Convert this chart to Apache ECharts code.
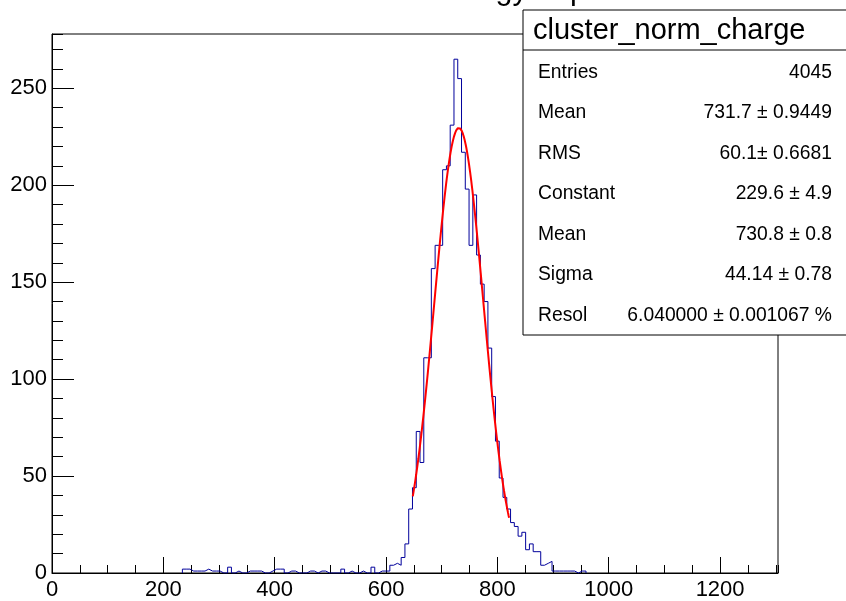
<!DOCTYPE html>
<html><head><meta charset="utf-8">
<script src="https://cdn.jsdelivr.net/npm/echarts@6/dist/echarts.min.js"></script>
<style>html,body{margin:0;padding:0;background:#fff}#c{width:846px;height:601px}</style>
</head><body><div id="c"></div>
<script>
// ---- data ----
const xRange = [0, 1304];
const yRange = [0, 278];
const histFirstEdge = 234.2;   // low edge of first listed bin
const histBinWidth = 6.775;
const counts = [
  // low tail
  2,2,1,1,1,1,2,1,1,1,
  0,0,3,0,1,0,0,1,1,1,
  1,0,0,1,2,2,2,0,1,1,
  0,0,0,1,1,0,1,1,0,0,
  0,0,2,0,1,0,0,1,0,0,
  // rising edge
  3,0,1,1,1,4,5,4,8,15,
  33,44,73,57,111,111,157,169,169,208,
  210,231,
  // peak and falling edge
  265,255,217,198,169,195,164,149,140,116,
  91,68,49,39,33,26,24,19,21,12,
  15,11,11,4,5,6,1,1,1,1,
  1,1,0,1,1
];
const fitParams = { constant: 229.6, mean: 730.8, sigma: 44.14 };
const fitRange = [648, 821];
const titleText = 'Energy deposit';
const statsTitle = 'cluster_norm_charge';
const statsLabels = ['Entries', 'Mean', 'RMS', 'Constant', 'Mean', 'Sigma', 'Resol'];
const statsValues = ['4045', '731.7 \u00b1 0.9449', '60.1\u00b1 0.6681', '229.6 \u00b1 4.9', '730.8 \u00b1 0.8', '44.14 \u00b1 0.78', '6.040000 \u00b1 0.001067 %'];

// ---- build series ----
const histData = [];
counts.forEach((c, i) => {
  const lo = histFirstEdge + i * histBinWidth, hi = lo + histBinWidth;
  if (i === 0) histData.push([lo, 0]);
  histData.push([lo, c], [hi, c]);
});
histData.push([histFirstEdge + counts.length * histBinWidth, 0]);

const fitData = [];
for (let x = fitRange[0]; x <= fitRange[1] + 1e-9; x += 1) {
  const d = (x - fitParams.mean) / fitParams.sigma;
  fitData.push([x, fitParams.constant * Math.exp(-0.5 * d * d)]);
}

const FONT = 'Liberation Sans, Arial, Helvetica, sans-serif';
const chart = echarts.init(document.getElementById('c'), null, { renderer: 'canvas' });

const gLeft = 52, gTop = 34, gW = 726, gH = 542;
const graphics = [
  { type: 'text', left: 431, top: -24.5, z: 100,
    style: { text: titleText, font: '30.5px ' + FONT, fill: '#000' } },
  { type: 'rect', shape: { x: 523, y: 10, width: 325, height: 325 }, z: 100,
    style: { fill: '#fff', stroke: '#000', lineWidth: 1 } },
  { type: 'line', shape: { x1: 523, y1: 50, x2: 846, y2: 50 }, z: 101,
    style: { stroke: '#000', lineWidth: 1 } },
  { type: 'text', x: 533, y: 31, z: 101,
    style: { text: statsTitle, font: '29px ' + FONT, fill: '#000', verticalAlign: 'middle' } }
];
statsLabels.forEach((lab, i) => {
  const cy = 72.5 + i * 40.5;
  graphics.push({ type: 'text', x: 538, y: cy, z: 101,
    style: { text: lab, font: '19.3px ' + FONT, fill: '#000', verticalAlign: 'middle', align: 'left' } });
  graphics.push({ type: 'text', x: 832, y: cy, z: 101,
    style: { text: statsValues[i], font: '19.3px ' + FONT, fill: '#000', verticalAlign: 'middle', align: 'right' } });
});

const lab = { color: '#000', fontSize: 22, fontFamily: FONT, formatter: v => String(v) };
chart.setOption({
  animation: false,
  backgroundColor: '#fff',
  grid: { left: gLeft, top: gTop, width: gW, height: gH, show: true, borderColor: '#000', borderWidth: 1, backgroundColor: 'transparent', containLabel: false },
  xAxis: [
    { type: 'value', min: xRange[0], max: xRange[1], interval: 200, position: 'bottom',
      axisLine: { show: true, onZero: false, lineStyle: { color: '#000', width: 1 } },
      axisTick: { show: true, inside: true, length: 16, lineStyle: { color: '#000' } },
      axisLabel: Object.assign({ margin: 6, showMaxLabel: false }, lab),
      splitLine: { show: false } },
    { type: 'value', min: xRange[0], max: xRange[1], interval: 50, position: 'bottom',
      axisLine: { show: false, onZero: false },
      axisTick: { show: true, inside: true, length: 8, lineStyle: { color: '#000' } },
      axisLabel: { show: false }, splitLine: { show: false } }
  ],
  yAxis: [
    { type: 'value', min: yRange[0], max: yRange[1], interval: 50, position: 'left',
      axisLine: { show: true, onZero: false, lineStyle: { color: '#000', width: 1 } },
      axisTick: { show: true, inside: true, length: 22, lineStyle: { color: '#000' } },
      axisLabel: Object.assign({ margin: 5, showMaxLabel: false }, lab),
      splitLine: { show: false } },
    { type: 'value', min: yRange[0], max: yRange[1], interval: 10, position: 'left',
      axisLine: { show: false, onZero: false },
      axisTick: { show: true, inside: true, length: 11, lineStyle: { color: '#000' } },
      axisLabel: { show: false }, splitLine: { show: false } }
  ],
  series: [
    { type: 'line', xAxisIndex: 0, yAxisIndex: 0, data: histData, symbol: 'none',
      lineStyle: { color: '#00009b', width: 1 }, z: 3 },
    { type: 'line', xAxisIndex: 0, yAxisIndex: 0, data: fitData, symbol: 'none', smooth: false,
      lineStyle: { color: '#ff0000', width: 2 }, z: 4 }
  ],
  graphic: graphics
});
</script>
</body></html>
